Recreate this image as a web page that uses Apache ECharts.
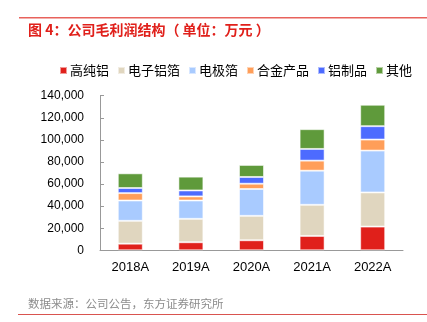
<!DOCTYPE html>
<html><head><meta charset="utf-8">
<script src="https://cdn.jsdelivr.net/npm/echarts@6/dist/echarts.min.js"></script>
<style>html,body{margin:0;padding:0;background:#fff}#c{width:427px;height:322px}</style>
</head><body><div id="c"></div>
<script>
const categories = ['2018A','2019A','2020A','2021A','2022A'];
const seriesNames = ['高纯铝','电子铝箔','电极箔','合金产品','铝制品','其他'];
const highPurityAl = [6000, 7300, 9100, 13000, 21500];
const electronicFoil = [20700, 21200, 22100, 28200, 30900];
const electrodeFoil = [18400, 16600, 24300, 30900, 37900];
const alloyProducts = [6700, 3700, 4800, 9100, 10000];
const alProducts = [4600, 5400, 6100, 10600, 12100];
const others = [13300, 12500, 10900, 17900, 19400];
const yTicks = [0, 20000, 40000, 60000, 80000, 100000, 120000, 140000];
const colors = ['#e0201b','#e0d6bf','#a9cbff','#ff9e59','#4d6bff','#5f9a3b'];
const values = [highPurityAl, electronicFoil, electrodeFoil, alloyProducts, alProducts, others];

const chart = echarts.init(document.getElementById('c'));
chart.setOption({
  animation: false,
  textStyle: {fontFamily: '"Liberation Sans", "Noto Sans CJK SC", sans-serif'},
  graphic: [
    {type:'rect', shape:{x:19,y:17,width:408,height:1.5}, style:{fill:'#e8625c'}},
    {type:'text', left:28, top:23, style:{text:'图 4：公司毛利润结构（ 单位：万元 ）', fill:'#e0201b', font:'bold 14px "Noto Sans CJK SC", sans-serif'}},
    {type:'text', left:28, top:298, style:{text:'数据来源：公司公告，东方证券研究所', fill:'#8c8c8c', font:'11.5px "Noto Sans CJK SC", sans-serif'}},
    {type:'rect', shape:{x:18,y:314,width:409,height:1}, style:{fill:'#d9534f'}}
  ],
  legend: {
    top: 59, left: 54,
    itemWidth: 7, itemHeight: 7, itemGap: 8,
    icon: 'rect',
    textStyle: {fontSize: 13, color:'#000', fontFamily:'"Noto Sans CJK SC", sans-serif', padding:[0,0,0,-2]},
    data: seriesNames
  },
  grid: {left: 100, right: 24, top: 95.7, bottom: 71.7, containLabel: false},
  xAxis: {
    type: 'category', data: categories,
    axisLine: {lineStyle:{color:'#999'}},
    axisTick: {inside:true, length:4, lineStyle:{color:'#999'}},
    axisLabel: {color:'#000', fontSize:13, margin:11}
  },
  yAxis: {
    type: 'value', min: 0, max: 140000, interval: 20000,
    axisLine: {show:true, lineStyle:{color:'#999'}},
    axisTick: {show:true, inside:true, length:4, lineStyle:{color:'#999'}},
    splitLine: {show:false},
    axisLabel: {color:'#000', fontSize:12, margin:16,
      formatter: v => yTicks.includes(v) ? v.toLocaleString('en-US') : ''}
  },
  series: seriesNames.map((n,i)=>({
    name:n, type:'bar', stack:'a', data: values[i], barWidth: 25,
    itemStyle:{color:colors[i], borderColor:'rgba(255,255,255,0.55)', borderWidth:1}
  }))
});
</script></body></html>
